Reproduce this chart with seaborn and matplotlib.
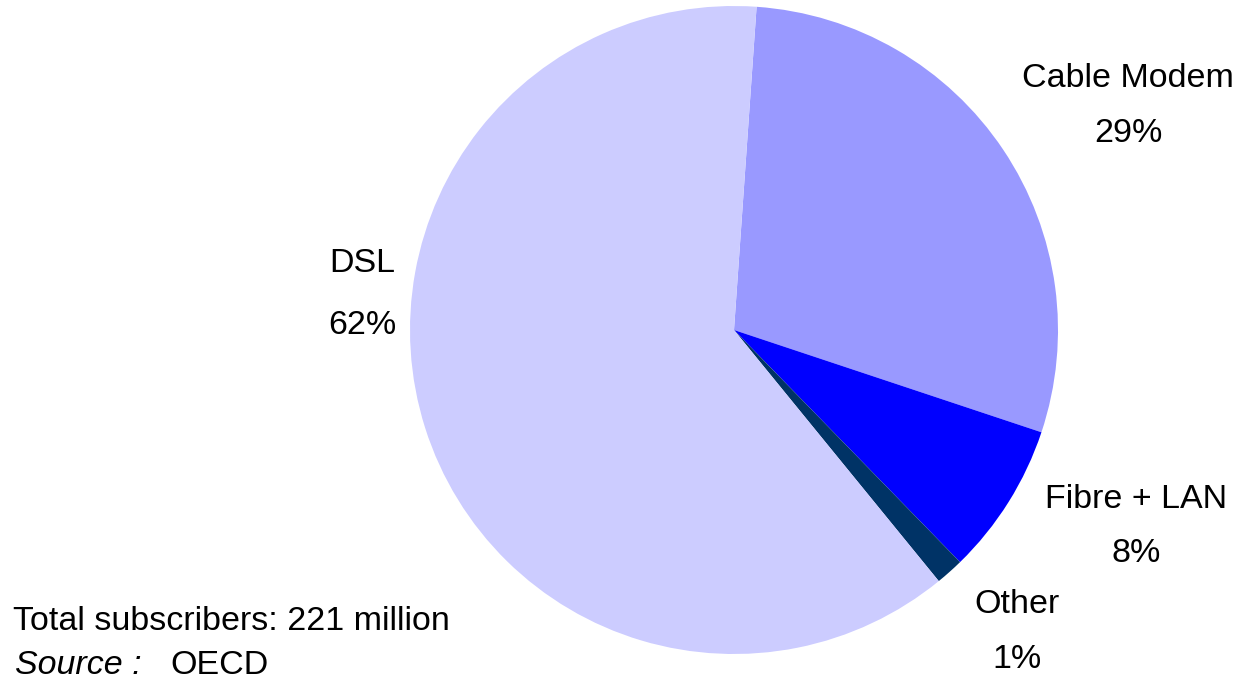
import matplotlib
matplotlib.use("Agg")
import matplotlib.pyplot as plt
import seaborn as sns

# ---- data ----
categories = ["Cable Modem", "Fibre + LAN", "Other", "DSL"]
shares = [29.0, 7.6, 1.4, 62.0]
pct_labels = ["29%", "8%", "1%", "62%"]
colors = ["#9999FF", "#0000FF", "#003366", "#CCCCFF"]
note_total = "Total subscribers: 221 million"
note_source_label = "Source :"
note_source = "OECD"

sns.set_theme(style="white")
plt.rcParams["font.family"] = ["Liberation Sans", "DejaVu Sans"]

W, H, DPI = 1247, 692, 100
fig = plt.figure(figsize=(W / DPI, H / DPI), dpi=DPI)
fig.patch.set_facecolor("white")

cx, cy, R = 734, 330, 324  # pixel centre / radius of pie
ax = fig.add_axes([(cx - R) / W, (H - cy - R) / H, 2 * R / W, 2 * R / H])
ax.pie(shares, colors=colors, startangle=86, counterclock=False,
       radius=1.0, wedgeprops=dict(linewidth=0))
ax.set_xlim(-1, 1)
ax.set_ylim(-1, 1)
ax.set_aspect("equal")
ax.axis("off")

# label positions (pixel x centre, name baseline, pct baseline)
label_pos = {
    "Cable Modem": (1128, 87, 142),
    "Fibre + LAN": (1136, 508, 562),
    "Other": (1017, 613, 668),
    "DSL": (362, 272, 334),
}
fs = 24.5
for cat, pct in zip(categories, pct_labels):
    x, yn, yp = label_pos[cat]
    fig.text(x / W, 1 - yn / H, cat, ha="center", va="baseline",
             fontsize=fs, color="black")
    fig.text(x / W, 1 - yp / H, pct, ha="center", va="baseline",
             fontsize=fs, color="black")

fig.text(13 / W, 1 - 630 / H, note_total, ha="left", va="baseline",
         fontsize=fs, color="black")
fig.text(15 / W, 1 - 674 / H, note_source_label, ha="left", va="baseline",
         fontsize=fs, color="black", style="italic")
fig.text(170 / W, 1 - 674 / H, note_source, ha="left", va="baseline",
         fontsize=fs, color="black")

fig.savefig("out.png", dpi=DPI, facecolor="white")
